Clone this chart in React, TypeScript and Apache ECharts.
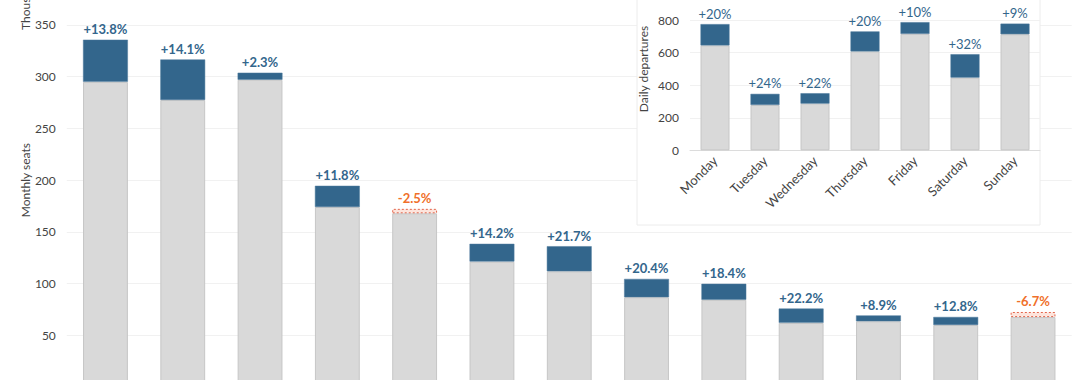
import React, { useEffect, useRef } from "react";
import * as echarts from "echarts";

// Main chart: monthly seats (thousands), previous vs current year
const mainCategories = ["C1", "C2", "C3", "C4", "C5", "C6", "C7", "C8", "C9", "C10", "C11", "C12", "C13"];
const mainPrev = [295, 277.5, 297, 174, 172.2, 121.2, 111.8, 86.8, 84.3, 62, 63.5, 60, 72.5];
const mainCurr = [335.7, 316.6, 303.8, 194.5, 167.9, 138.4, 136.1, 104.5, 99.8, 75.8, 69.2, 67.7, 67.6];
const mainGrowth = [13.8, 14.1, 2.3, 11.8, -2.5, 14.2, 21.7, 20.4, 18.4, 22.2, 8.9, 12.8, -6.7];
const mainTicks = [0, 50, 100, 150, 200, 250, 300, 350, 400];

// Inset chart: daily departures by weekday
const days = ["Monday", "Tuesday", "Wednesday", "Thursday", "Friday", "Saturday", "Sunday"];
const dayPrev = [645, 279, 287, 608, 716, 447, 714];
const dayCurr = [776, 347, 351, 731, 788, 591, 779];
const dayGrowth = [20, 24, 22, 20, 10, 32, 9];
const dayTicks = [0, 200, 400, 600, 800, 1000];

const BLUE = "#33668c";
const GRAY = "#d9d9d9";
const GRAY_BORDER = "#c6c6c6";
const ORANGE = "#f0702a";
const FONT = "Lato";

const fmt1 = (g: number) => (g >= 0 ? "+" : "") + g.toFixed(1) + "%";
const fmt0 = (g: number) => (g >= 0 ? "+" : "") + g.toFixed(0) + "%";

export default function App() {
  const ref = useRef<HTMLDivElement>(null);

  useEffect(() => {
    if (!ref.current) return;
    const chart = echarts.init(ref.current, undefined, { renderer: "svg" });

    const mainBase = mainPrev.map((p, i) => Math.min(p, mainCurr[i]));
    const mainUp = mainPrev.map((p, i) => (mainCurr[i] >= p ? mainCurr[i] - p : "-"));
    const mainDown = mainPrev.map((p, i) => (mainCurr[i] < p ? p - mainCurr[i] : "-"));

    const dayBase = dayPrev.map((p, i) => Math.min(p, dayCurr[i]));
    const dayUp = dayPrev.map((p, i) => (dayCurr[i] >= p ? dayCurr[i] - p : "-"));

    const tickColor = "#444";

    chart.setOption({
      animation: false,
      textStyle: { fontFamily: FONT },
      graphic: [
        {
          type: "rect",
          z: 5,
          shape: { x: 637, y: 0, width: 403, height: 265 },
          style: { fill: "#ffffff", stroke: "#ececec", lineWidth: 1 },
        },
        {
          type: "text",
          z: 6,
          x: 31,
          y: 70,
          rotation: Math.PI / 2,
          style: {
            text: "Thousands",
            fontFamily: FONT,
            fontSize: 12,
            fill: tickColor,
            align: "left",
            verticalAlign: "bottom",
          },
        },
      ],
      grid: [
        { left: 66.8, right: 8.3, top: 13.2, bottom: 53 },
        { left: 690, right: 40, top: 27.7, bottom: 289.7 },
      ],
      xAxis: [
        {
          type: "category",
          gridIndex: 0,
          data: mainCategories,
          axisLine: { lineStyle: { color: "#ddd" } },
          axisTick: { show: false },
          axisLabel: { show: false },
        },
        {
          type: "category",
          gridIndex: 1,
          data: days,
          z: 10,
          axisLine: { lineStyle: { color: "#dcdcdc" } },
          axisTick: { show: false },
          axisLabel: { rotate: 45, fontSize: 13, color: tickColor, fontFamily: FONT, margin: 8 },
        },
      ],
      yAxis: [
        {
          type: "value",
          gridIndex: 0,
          min: mainTicks[0],
          max: mainTicks[mainTicks.length - 1],
          interval: mainTicks[1] - mainTicks[0],
          name: "Monthly seats",
          nameLocation: "middle",
          nameGap: 35,
          nameMoveOverlap: false,
          nameTextStyle: { fontSize: 12, color: tickColor, fontFamily: FONT },
          axisLine: { show: false },
          axisTick: { show: false },
          axisLabel: {
            fontSize: 12,
            color: tickColor,
            fontFamily: FONT,
            margin: 11,
            formatter: (v: number) => (v === 0 || v === 400 ? "" : String(v)),
          },
          splitLine: { lineStyle: { color: "#f1f1f1" } },
        },
        {
          type: "value",
          gridIndex: 1,
          min: dayTicks[0],
          max: dayTicks[dayTicks.length - 1],
          interval: dayTicks[1] - dayTicks[0],
          z: 10,
          name: "Daily departures",
          nameLocation: "middle",
          nameGap: 41,
          nameMoveOverlap: false,
          nameTextStyle: { fontSize: 12, color: tickColor, fontFamily: FONT },
          axisLine: { show: false },
          axisTick: { show: false },
          axisLabel: {
            fontSize: 12,
            color: tickColor,
            fontFamily: FONT,
            margin: 11,
            formatter: (v: number) => (v === 1000 ? "" : String(v)),
          },
          splitLine: { lineStyle: { color: "#f1f1f1" } },
        },
      ],
      series: [
        {
          type: "bar",
          xAxisIndex: 0,
          yAxisIndex: 0,
          stack: "main",
          barWidth: "58%",
          data: mainBase,
          itemStyle: { color: GRAY, borderColor: GRAY_BORDER, borderWidth: 1 },
        },
        {
          type: "bar",
          xAxisIndex: 0,
          yAxisIndex: 0,
          stack: "main",
          data: mainUp.map((v, i) => ({
            value: v,
            label: {
              show: mainGrowth[i] >= 0,
              position: "top",
              distance: 4,
              formatter: () => fmt1(mainGrowth[i]),
              color: BLUE,
              fontSize: 13,
              fontWeight: "bold",
              fontFamily: FONT,
            },
          })),
          itemStyle: { color: BLUE, borderColor: "#4f7b9c", borderWidth: 0.5 },
        },
        {
          type: "bar",
          xAxisIndex: 0,
          yAxisIndex: 0,
          stack: "main",
          data: mainDown.map((v, i) => ({
            value: v,
            label: {
              show: mainGrowth[i] < 0,
              position: "top",
              distance: 4,
              formatter: () => fmt1(mainGrowth[i]),
              color: ORANGE,
              fontSize: 13,
              fontWeight: "bold",
              fontFamily: FONT,
            },
          })),
          itemStyle: {
            color: "#fde4dc",
            borderColor: "#e2664c",
            borderWidth: 1,
            borderType: [2, 2],
          },
        },
        {
          type: "bar",
          xAxisIndex: 1,
          yAxisIndex: 1,
          stack: "days",
          z: 11,
          barWidth: "58%",
          data: dayBase,
          itemStyle: { color: GRAY, borderColor: GRAY_BORDER, borderWidth: 1 },
        },
        {
          type: "bar",
          xAxisIndex: 1,
          yAxisIndex: 1,
          stack: "days",
          z: 11,
          data: dayUp.map((v, i) => ({
            value: v,
            label: {
              show: true,
              position: "top",
              distance: 4,
              formatter: () => fmt0(dayGrowth[i]),
              color: BLUE,
              fontSize: 13,
              fontFamily: FONT,
            },
          })),
          itemStyle: { color: BLUE, borderColor: "#4f7b9c", borderWidth: 0.5 },
        },
      ],
    });

    return () => chart.dispose();
  }, []);

  return (
    <div
      style={{
        position: "fixed",
        left: 0,
        top: 0,
        width: 1080,
        height: 380,
        overflow: "hidden",
        background: "#fff",
      }}
    >
      <div
        ref={ref}
        style={{ position: "absolute", left: 0, top: -40, width: 1080, height: 480 }}
      />
    </div>
  );
}
